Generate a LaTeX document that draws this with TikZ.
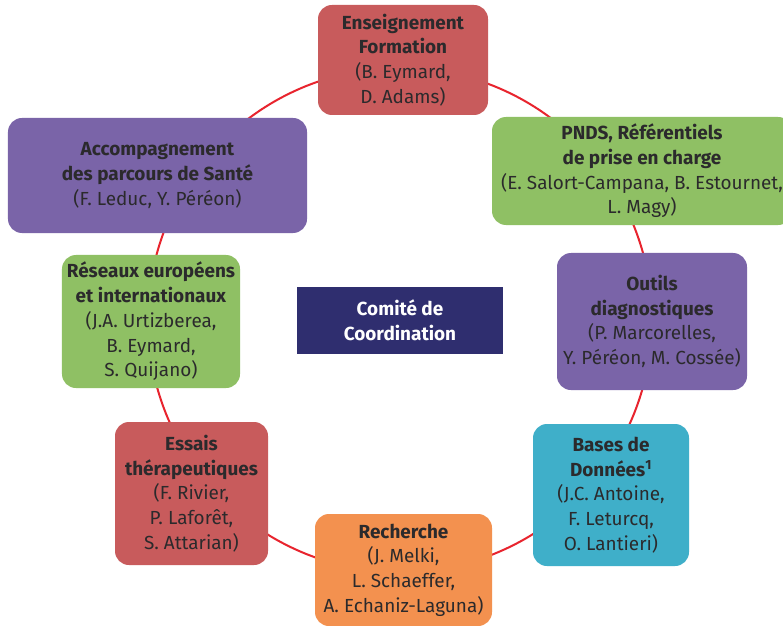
\documentclass[tikz,border=0pt]{standalone}
\usepackage{fontspec}
\setmainfont{Fira Sans}
\definecolor{ringred}{HTML}{E8242E}
\definecolor{boxred}{HTML}{C85B5C}
\definecolor{boxgreen}{HTML}{8FC064}
\definecolor{boxpurple}{HTML}{7A64A8}
\definecolor{boxcyan}{HTML}{3FAFC9}
\definecolor{boxorange}{HTML}{F3914F}
\definecolor{boxnavy}{HTML}{2F2E6F}
\definecolor{txt}{HTML}{2B2A2C}
\tikzset{
  topic/.style={rectangle, rounded corners=14bp, align=center, text=txt,
    inner sep=0pt, font=\fontsize{19}{24.8}\selectfont},
  center box/.style={rectangle, align=center, text=white, fill=boxnavy,
    inner sep=0pt, font=\fontsize{19}{24.8}\selectfont\bfseries},
  ring/.style={draw=ringred, line width=2bp}
}
\begin{document}
\begin{tikzpicture}[x=1bp,y=-1bp]
\useasboundingbox (0,0) rectangle (783,626);
\fill[white] (0,0) rectangle (783,626);
\coordinate (c) at (400,320);
\draw[ring] (c) circle [radius=252];
% boxes
\node[topic, fill=boxred, minimum width=170bp, minimum height=110bp] (ens) at (403,60)
  {\textbf{Enseignement}\\\textbf{Formation}\\(B. Eymard,\\D. Adams)};
\node[topic, fill=boxgreen, minimum width=300bp, minimum height=108bp] (pnds) at (642,171)
  {\textbf{PNDS, Référentiels}\\\textbf{de prise en charge}\\(E. Salort-Campana, B. Estournet,\\L. Magy)};
\node[topic, fill=boxpurple, minimum width=299bp, minimum height=115bp] (acc) at (157.5,175.5)
  {\textbf{Accompagnement}\\\textbf{des parcours de Santé}\\(F. Leduc, Y. Péréon)};
\node[topic, fill=boxgreen, minimum width=178bp, minimum height=133bp] (res) at (151,321.5)
  {\textbf{Réseaux européens}\\\textbf{et internationaux}\\(J.A. Urtizberea,\\B. Eymard,\\S. Quijano)};
\node[center box, minimum width=206bp, minimum height=67bp] (com) at (400,320.5)
  {Comité de\\Coordination};
\node[topic, fill=boxpurple, minimum width=190bp, minimum height=137bp] (out) at (652,321.5)
  {\textbf{Outils}\\\textbf{diagnostiques}\\(P. Marcorelles,\\Y. Péréon, M. Cossée)};
\node[topic, fill=boxred, minimum width=153bp, minimum height=143bp] (ess) at (191.5,493.5)
  {\textbf{Essais}\\\textbf{thérapeutiques}\\(F. Rivier,\\P. Laforêt,\\S. Attarian)};
\node[topic, fill=boxcyan, minimum width=156bp, minimum height=142bp] (bas) at (611,495)
  {\textbf{Bases de}\\\textbf{Données\textsuperscript{1}}\\(J.C. Antoine,\\F. Leturcq,\\O. Lantieri)};
\node[topic, fill=boxorange, minimum width=177bp, minimum height=112bp] (rec) at (403.5,570)
  {\textbf{Recherche}\\(J. Melki,\\L. Schaeffer,\\A. Echaniz-Laguna)};
\end{tikzpicture}
\end{document}
